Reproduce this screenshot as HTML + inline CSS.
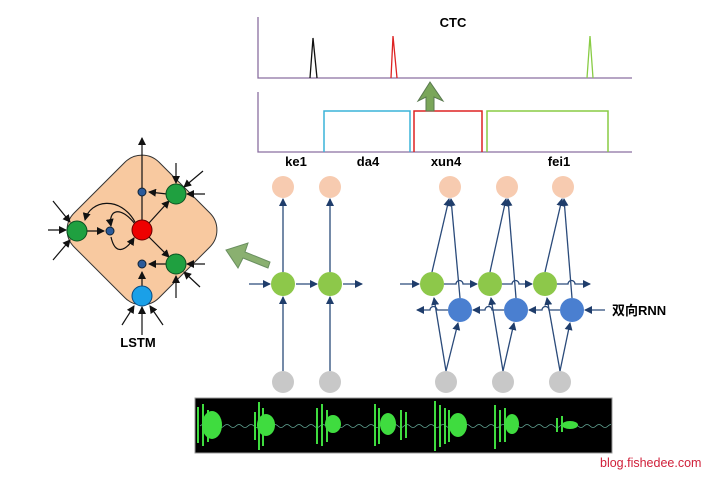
<!DOCTYPE html>
<html><head><meta charset="utf-8"><style>
body{margin:0;background:#fff;width:713px;height:479px;overflow:hidden}
text{font-family:"Liberation Sans","Noto Sans CJK SC",sans-serif}
</style></head><body>
<svg width="713" height="479" viewBox="0 0 713 479" xmlns="http://www.w3.org/2000/svg">
<defs>
<marker id="a" markerWidth="8" markerHeight="8" refX="7" refY="4" orient="auto" markerUnits="userSpaceOnUse"><path d="M0,0 L8,4 L0,8 Z" fill="#1f3d6b"/></marker>
<marker id="k" markerWidth="8" markerHeight="8" refX="7" refY="4" orient="auto" markerUnits="userSpaceOnUse"><path d="M0,0 L8,4 L0,8 Z" fill="#111"/></marker>
<clipPath id="wc"><rect x="196" y="399" width="415" height="53"/></clipPath>
</defs>
<g stroke="#8a6fa0" stroke-width="1.3" fill="none">
<path d="M258,17 V78 H632"/>
<path d="M258,92 V152 H632"/>
</g>
<path d="M310,78 L313,38 L317,78" stroke="#111" fill="none" stroke-width="1.3"/>
<path d="M391,78 L393,36 L397,78" stroke="#d22" fill="none" stroke-width="1.3"/>
<path d="M587,78 L590,36 L593,78" stroke="#8c4" fill="none" stroke-width="1.3"/>
<text x="453" y="27" font-size="13" font-weight="bold" text-anchor="middle">CTC</text>
<path d="M324,152 V111 H410 V152" stroke="#3ab4d8" fill="none" stroke-width="1.5"/>
<path d="M414,152 V111 H482 V152" stroke="#d22" fill="none" stroke-width="1.5"/>
<path d="M487,152 V111 H608 V152" stroke="#8c4" fill="none" stroke-width="1.5"/>
<path d="M430,82 L443,101 L434,97 L434,111 L426,111 L426,97 L418,101 Z" fill="#7aa65a" stroke="#5a7a50"/>
<g font-size="13" font-weight="bold" text-anchor="middle">
<text x="296" y="166">ke1</text><text x="368" y="166">da4</text><text x="446" y="166">xun4</text><text x="559" y="166">fei1</text>
</g>
<g stroke="#2a4a7a" stroke-width="1.3" fill="none">
<line x1="283" y1="371" x2="283" y2="297" marker-end="url(#a)"/>
<line x1="330" y1="371" x2="330" y2="297" marker-end="url(#a)"/>
<line x1="283" y1="272" x2="283" y2="199" marker-end="url(#a)"/>
<line x1="330" y1="272" x2="330" y2="199" marker-end="url(#a)"/>
<line x1="249" y1="284" x2="270" y2="284" marker-end="url(#a)"/>
<line x1="296" y1="284" x2="317" y2="284" marker-end="url(#a)"/>
<line x1="343" y1="284" x2="362" y2="284" marker-end="url(#a)"/>
</g>
<g fill="#f7cbb0"><circle cx="283" cy="187" r="11"/><circle cx="330" cy="187" r="11"/><circle cx="450" cy="187" r="11"/><circle cx="507" cy="187" r="11"/><circle cx="563" cy="187" r="11"/></g>
<g fill="#c8c8c8"><circle cx="283" cy="382" r="11"/><circle cx="330" cy="382" r="11"/><circle cx="446" cy="382" r="11"/><circle cx="503" cy="382" r="11"/><circle cx="560" cy="382" r="11"/></g>
<g stroke="#2a4a7a" stroke-width="1.3" fill="none">
<line x1="446" y1="371" x2="434" y2="298" marker-end="url(#a)"/>
<line x1="446" y1="371" x2="458" y2="323" marker-end="url(#a)"/>
<line x1="503" y1="371" x2="491" y2="298" marker-end="url(#a)"/>
<line x1="503" y1="371" x2="514" y2="323" marker-end="url(#a)"/>
<line x1="560" y1="371" x2="547" y2="298" marker-end="url(#a)"/>
<line x1="560" y1="371" x2="570" y2="323" marker-end="url(#a)"/>
<line x1="432" y1="272" x2="449" y2="199" marker-end="url(#a)"/>
<line x1="460" y1="298" x2="451" y2="199" marker-end="url(#a)"/>
<line x1="490" y1="272" x2="506" y2="199" marker-end="url(#a)"/>
<line x1="516" y1="298" x2="508" y2="199" marker-end="url(#a)"/>
<line x1="545" y1="272" x2="562" y2="199" marker-end="url(#a)"/>
<line x1="572" y1="298" x2="564" y2="199" marker-end="url(#a)"/>
<line x1="400" y1="284" x2="419" y2="284" marker-end="url(#a)"/>
<path d="M444,284 H456 a3,3 0 0 1 7,0 H477" marker-end="url(#a)"/>
<path d="M502,284 H512 a3,3 0 0 1 7,0 H532" marker-end="url(#a)"/>
<path d="M557,284 H568 a3,3 0 0 1 7,0 H590" marker-end="url(#a)"/>
<line x1="605" y1="310" x2="585" y2="310" marker-end="url(#a)"/>
<path d="M560,310 H549 a3,3 0 0 0 -7,0 H529" marker-end="url(#a)"/>
<path d="M504,310 H492 a3,3 0 0 0 -7,0 H473" marker-end="url(#a)"/>
<path d="M448,310 H437 a3,3 0 0 0 -7,0 H417" marker-end="url(#a)"/>
</g>
<g fill="#8dc84a"><circle cx="283" cy="284" r="12"/><circle cx="330" cy="284" r="12"/><circle cx="432" cy="284" r="12"/><circle cx="490" cy="284" r="12"/><circle cx="545" cy="284" r="12"/></g>
<g fill="#4a7fd0"><circle cx="460" cy="310" r="12"/><circle cx="516" cy="310" r="12"/><circle cx="572" cy="310" r="12"/></g>
<text x="612" y="315" font-size="13" font-weight="bold">双向RNN</text>
<path d="M268,268 L243,258 L238,268 L226,250 L248,243 L245,252 L270,262 Z" fill="#8ab070" stroke="#6a8f60"/>
<rect x="82" y="170" width="120" height="120" rx="24" fill="#f8c9a0" stroke="#333" stroke-width="1" transform="rotate(45 142 230)"/>
<g stroke="#111" stroke-width="1.2" fill="none">
<line x1="142" y1="220" x2="142" y2="138" marker-end="url(#k)"/>
<line x1="142" y1="286" x2="142" y2="272" marker-end="url(#k)"/>
<line x1="142" y1="335" x2="142" y2="307" marker-end="url(#k)"/>
<line x1="122" y1="325" x2="134" y2="306" marker-end="url(#k)"/>
<line x1="163" y1="325" x2="150" y2="306" marker-end="url(#k)"/>
<line x1="87" y1="231" x2="104" y2="231" marker-end="url(#k)"/>
<line x1="167" y1="194" x2="149" y2="192" marker-end="url(#k)"/>
<line x1="167" y1="264" x2="149" y2="264" marker-end="url(#k)"/>
<line x1="149" y1="223" x2="169" y2="201" marker-end="url(#k)"/>
<line x1="149" y1="237" x2="169" y2="257" marker-end="url(#k)"/>
<line x1="53" y1="201" x2="70" y2="222" marker-end="url(#k)"/>
<line x1="48" y1="230" x2="66" y2="230" marker-end="url(#k)"/>
<line x1="53" y1="260" x2="70" y2="240" marker-end="url(#k)"/>
<line x1="176" y1="163" x2="176" y2="183" marker-end="url(#k)"/>
<line x1="203" y1="171" x2="184" y2="187" marker-end="url(#k)"/>
<line x1="205" y1="194" x2="187" y2="194" marker-end="url(#k)"/>
<line x1="205" y1="264" x2="187" y2="264" marker-end="url(#k)"/>
<line x1="200" y1="287" x2="184" y2="272" marker-end="url(#k)"/>
<line x1="176" y1="298" x2="176" y2="276" marker-end="url(#k)"/>
<path d="M135,222 C120,195 90,200 85,220" marker-end="url(#k)"/>
<path d="M135,224 C120,205 108,210 111,226" marker-end="url(#k)"/>
<path d="M111,237 C115,255 125,252 134,238" marker-end="url(#k)"/>
</g>
<circle cx="142" cy="230" r="10" fill="#e00" stroke="#600"/>
<g fill="#1fa040" stroke="#0a5020"><circle cx="77" cy="231" r="10"/><circle cx="176" cy="194" r="10"/><circle cx="176" cy="264" r="10"/></g>
<circle cx="142" cy="296" r="10" fill="#1aa0e8" stroke="#0a4a80"/>
<g fill="#2a5a9a" stroke="#123"><circle cx="142" cy="192" r="4"/><circle cx="110" cy="231" r="4"/><circle cx="142" cy="264" r="4"/></g>
<text x="138" y="347" font-size="13" font-weight="bold" text-anchor="middle">LSTM</text>
<rect x="195" y="398" width="417" height="55" fill="#000" stroke="#999"/>
<g clip-path="url(#wc)">
<path d="M200,426 q3,-3 6,0 t6,0 t6,0 t6,0 t6,0 t6,0 t6,0 t6,0 t6,0 t6,0 t6,0 t6,0 t6,0 t6,0 t6,0 t6,0 t6,0 t6,0 t6,0 t6,0 t6,0 t6,0 t6,0 t6,0 t6,0 t6,0 t6,0 t6,0 t6,0 t6,0 t6,0 t6,0 t6,0 t6,0 t6,0 t6,0 t6,0 t6,0 t6,0 t6,0 t6,0 t6,0 t6,0 t6,0 t6,0 t6,0 t6,0 t6,0 t6,0 t6,0 t6,0 t6,0 t6,0 t6,0 t6,0 t6,0 t6,0 t6,0 t6,0 t6,0 t6,0 t6,0 t6,0 t6,0 t6,0 t6,0 t6,0 t6,0 t6,0 t6,0" stroke="#6a9" fill="none" stroke-width="0.8"/>
<g fill="#3fdc3f">
<ellipse cx="212" cy="425" rx="10" ry="14"/><rect x="197" y="407" width="2" height="36"/><rect x="202" y="404" width="2" height="42"/><rect x="207" y="410" width="2" height="32"/>
<ellipse cx="266" cy="425" rx="9" ry="11"/><rect x="258" y="402" width="2" height="48"/><rect x="262" y="408" width="2" height="38"/><rect x="254" y="412" width="2" height="28"/>
<ellipse cx="333" cy="424" rx="8" ry="9"/><rect x="316" y="408" width="2" height="36"/><rect x="321" y="404" width="2" height="42"/><rect x="326" y="410" width="2" height="32"/>
<ellipse cx="388" cy="424" rx="8" ry="11"/><rect x="374" y="404" width="2" height="42"/><rect x="378" y="408" width="2" height="36"/><rect x="400" y="410" width="2" height="30"/><rect x="405" y="412" width="2" height="26"/>
<ellipse cx="458" cy="425" rx="9" ry="12"/><rect x="434" y="401" width="2" height="50"/><rect x="439" y="405" width="2" height="42"/><rect x="444" y="408" width="2" height="36"/><rect x="448" y="410" width="2" height="32"/>
<ellipse cx="512" cy="424" rx="7" ry="10"/><rect x="494" y="405" width="2" height="44"/><rect x="499" y="410" width="2" height="32"/><rect x="504" y="408" width="2" height="34"/>
<ellipse cx="570" cy="425" rx="8" ry="4"/><rect x="556" y="418" width="2" height="14"/><rect x="561" y="416" width="2" height="16"/>
</g>
</g>
<text x="600" y="467" font-size="12.5" fill="#d0203a">blog.fishedee.com</text>
</svg>
</body></html>
